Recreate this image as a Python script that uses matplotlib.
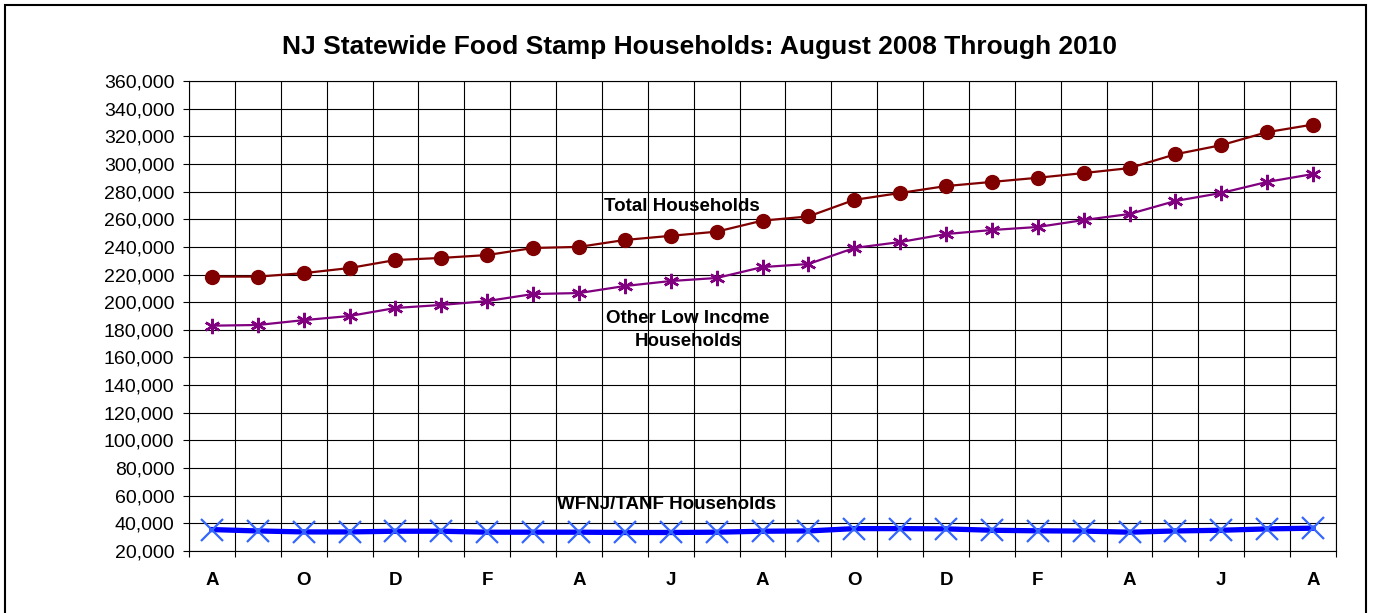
import matplotlib
matplotlib.use("Agg")
import matplotlib.pyplot as plt
from matplotlib.patches import Rectangle
from matplotlib.ticker import FuncFormatter
import numpy as np

plt.rcParams["font.family"] = "Liberation Sans"

# Aug 2008 .. Aug 2010, one value per month
months = ["A", "S", "O", "N", "D", "J", "F", "M", "A", "M", "J", "J",
          "A", "S", "O", "N", "D", "J", "F", "M", "A", "M", "J", "J", "A"]
total_households = [218500, 218500, 221000, 224700, 230500, 232000, 234100, 239200,
                    240000, 245000, 248000, 251000, 259000, 262000, 274000, 279000,
                    284000, 287000, 290000, 293400, 297000, 307000, 313600, 323000,
                    328500]
other_low_income = [183000, 183500, 187000, 190000, 195800, 198000, 200800, 205900,
                    206600, 211700, 215300, 217500, 225400, 227600, 239200, 243500,
                    249300, 252200, 254400, 259400, 263800, 273200, 279000, 287000,
                    292700]
tanf_households = [35500, 34500, 33800, 33800, 34300, 34300, 33600, 33600, 33600,
                   33400, 33400, 33600, 34300, 34500, 36200, 36200, 36000, 35000,
                   34600, 34400, 33600, 34500, 35000, 36000, 36500]
y_ticks = list(range(20000, 360001, 20000))

fig = plt.figure(figsize=(13.75, 6.13), dpi=100)
ax = fig.add_axes([189 / 1375, 1 - 551 / 613, (1336 - 189) / 1375, (551 - 81) / 613])

x = np.arange(len(months))
ax.plot(x, total_households, color="#800000", lw=1.6, marker="o", markersize=10, zorder=4)
ax.plot(x, other_low_income, color="#800080", lw=1.6, marker=(6, 2, 0), markersize=11,
        markeredgewidth=1.8, markeredgecolor="#800080", zorder=4)
ax.plot(x, tanf_households, color="#0000FF", lw=3.8, zorder=3)
ax.plot(x, tanf_households, linestyle="none", marker="x", markersize=16,
        markeredgewidth=1.6, markeredgecolor="#3366FF", zorder=5)

ax.set_xlim(-0.5, len(months) - 0.5)
ax.set_ylim(20000, 360000)
ax.set_yticks(y_ticks)
ax.yaxis.set_major_formatter(FuncFormatter(lambda v, p: f"{int(v):,}"))
ax.tick_params(axis="y", direction="out", length=4.5, width=0.8, pad=6, labelsize=14)

# gridlines sit on the category boundaries, labels on every other month
ax.set_xticks(np.arange(-0.5, len(months), 1.0))
ax.set_xticklabels([])
ax.tick_params(axis="x", which="major", direction="out", length=4.5, width=0.8)
ax.set_xticks(x[::2], minor=True)
ax.set_xticklabels(months[::2], minor=True, fontweight="bold", fontsize=13.5)
ax.tick_params(axis="x", which="minor", length=0, pad=15)

ax.grid(True, which="major", color="black", lw=0.8)
ax.set_axisbelow(True)
for s in ax.spines.values():
    s.set_linewidth(0.8)

ax.text(10.25, 269500, "Total Households", ha="center", va="center",
        fontsize=13.5, fontweight="bold")
ax.text(10.38, 180000, "Other Low Income\nHouseholds", ha="center", va="center",
        fontsize=13.5, fontweight="bold", linespacing=1.5)
ax.text(9.9, 53300, "WFNJ/TANF Households", ha="center", va="center",
        fontsize=13.5, fontweight="bold")

fig.text(699 / 1375, 1 - 47 / 613, "NJ Statewide Food Stamp Households: August 2008 Through 2010",
         ha="center", va="center", fontsize=19, fontweight="bold")

fig.patches.append(Rectangle((5 / 1375, -0.02), (1366 - 5) / 1375, 1.02 - 5 / 613,
                             transform=fig.transFigure, fill=False, edgecolor="black", lw=1.5))

fig.savefig("out.png", dpi=100)
